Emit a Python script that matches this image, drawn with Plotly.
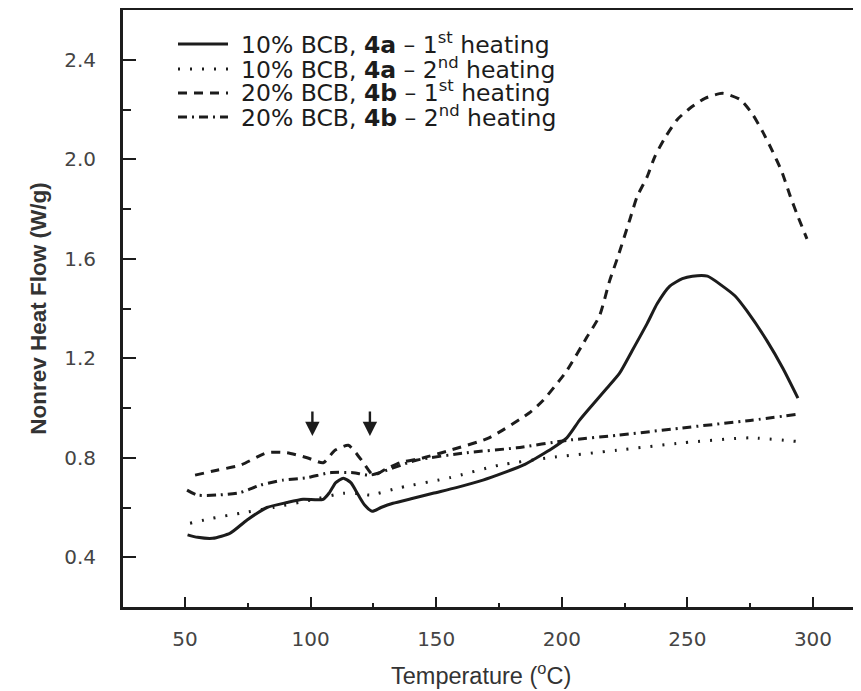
import plotly.graph_objects as go

# --- data ---
t_4a_1 = [51, 55, 61, 68, 74.7, 82.6, 90.6, 97, 105, 107.5, 110, 113, 116, 119, 121.5, 124.5, 128, 132.8, 140, 148.7, 158, 168.6, 177, 184.6, 190, 195, 202, 207, 212, 218, 223, 228, 234, 238, 243, 248, 252, 258, 264, 269, 273.7, 281.7, 288, 294]
v_4a_1 = [0.49, 0.48, 0.476, 0.497, 0.55, 0.60, 0.62, 0.633, 0.633, 0.66, 0.70, 0.718, 0.70, 0.65, 0.61, 0.585, 0.60, 0.617, 0.635, 0.657, 0.68, 0.71, 0.74, 0.77, 0.80, 0.83, 0.88, 0.95, 1.01, 1.08, 1.14, 1.23, 1.34, 1.42, 1.49, 1.52, 1.53, 1.53, 1.49, 1.45, 1.39, 1.27, 1.16, 1.04]

t_4a_2 = [52, 61, 72, 85, 100, 113, 120, 123.6, 135.6, 155.5, 175, 195, 222, 248, 275, 294]
v_4a_2 = [0.537, 0.557, 0.577, 0.60, 0.63, 0.657, 0.655, 0.65, 0.68, 0.72, 0.77, 0.80, 0.83, 0.86, 0.88, 0.865]

t_4b_1 = [54, 62.7, 72, 82.6, 90.6, 98.6, 105, 109.7, 115, 118, 121, 125, 130, 135.6, 145, 155.5, 171, 187, 192.5, 199, 202, 210, 215, 219, 222.4, 227, 230, 234, 237, 241, 246, 251, 257, 264, 271, 276, 280, 284, 287.6, 291, 294, 297.6]
v_4b_1 = [0.73, 0.75, 0.77, 0.82, 0.82, 0.80, 0.78, 0.83, 0.85, 0.82, 0.78, 0.73, 0.755, 0.78, 0.80, 0.83, 0.88, 0.98, 1.03, 1.11, 1.15, 1.285, 1.37, 1.51, 1.61, 1.755, 1.85, 1.93, 2.01, 2.085, 2.16, 2.205, 2.245, 2.265, 2.24, 2.18, 2.11, 2.03, 1.95, 1.85, 1.77, 1.68]

t_4b_2 = [50.8, 54.8, 62.7, 72, 80, 89, 98.6, 107.7, 117, 123.6, 142, 162, 182, 202, 222, 248, 275, 294]
v_4b_2 = [0.67, 0.65, 0.65, 0.66, 0.69, 0.71, 0.72, 0.74, 0.74, 0.73, 0.79, 0.82, 0.84, 0.87, 0.89, 0.92, 0.95, 0.975]

names = [
    "10% BCB, <b>4a</b> \u2013 1<sup>st</sup> heating",
    "10% BCB, <b>4a</b> \u2013 2<sup>nd</sup> heating",
    "20% BCB, <b>4b</b> \u2013 1<sup>st</sup> heating",
    "20% BCB, <b>4b</b> \u2013 2<sup>nd</sup> heating",
]

x_ticks = [50, 100, 150, 200, 250, 300]
y_ticks = [0.4, 0.8, 1.2, 1.6, 2.0, 2.4]

# arrow markers (transition positions)
arrow_t = [100.7, 123.6]
arrow_tip = 0.887
arrow_tail = 0.992

INK = "#1c1c1c"
FONT = "Liberation Sans, Arial, sans-serif"
WIDEFONT = "DejaVu Sans, Liberation Sans, sans-serif"

# the page body adds an 8px offset; layout numbers below are in figure pixels
OFF = 8
W, H = 861, 691
ML, MR, MT, MB = 123 - OFF, 0, 10 - OFF, 691 - (607 - OFF)
PW, PH = W - ML - MR, H - MT - MB


def px_x(sx):
    return (sx - OFF - ML) / PW


def px_y(sy):
    return (H - MB - (sy - OFF)) / PH


fig = go.Figure()
dashes = ["solid", "2px,10px", "9px,7px", "9px,5px,2px,5px"]
series = [(t_4a_1, v_4a_1), (t_4a_2, v_4a_2), (t_4b_1, v_4b_1), (t_4b_2, v_4b_2)]
for (t, v), dash, name in zip(series, dashes, names):
    fig.add_trace(go.Scatter(
        x=t, y=v, mode="lines", name=name, showlegend=False,
        line=dict(color=INK, width=3, dash=dash, shape="spline", smoothing=0.6),
    ))

# legend (drawn manually to match the original's compact layout)
leg_rows = [44, 69, 93, 117]
for row, dash, name in zip(leg_rows, dashes, names):
    fig.add_shape(type="line", xref="paper", yref="paper",
                  x0=px_x(178), x1=px_x(228), y0=px_y(row), y1=px_y(row),
                  line=dict(color=INK, width=3, dash=dash))
    fig.add_annotation(xref="paper", yref="paper", x=px_x(240), y=px_y(row - 1),
                       xanchor="left", yanchor="middle", showarrow=False, borderpad=0,
                       text=name, font=dict(size=23.5, color=INK, family=WIDEFONT))

for t in arrow_t:
    fig.add_annotation(
        x=t, y=arrow_tip, ax=t, ay=arrow_tail, xref="x", yref="y",
        axref="x", ayref="y", text="", showarrow=True,
        arrowhead=2, arrowsize=1.2, arrowwidth=2.4, arrowcolor=INK,
    )

# x-axis title
fig.add_annotation(xref="paper", yref="paper", x=px_x(481), y=px_y(674),
                   xanchor="center", yanchor="middle", showarrow=False,
                   text="Temperature (<sup>o</sup>C)", font=dict(size=23.5, color="#333", family=FONT))

fig.update_layout(
    width=W, height=H,
    margin=dict(l=ML, r=MR, t=MT, b=MB, autoexpand=False),
    paper_bgcolor="white", plot_bgcolor="white",
    font=dict(family=FONT, color=INK),
    showlegend=False,
    xaxis=dict(
        range=[25.3, 322.3], tickvals=x_ticks,
        ticks="inside", ticklen=10, tickwidth=2, tickcolor=INK,
        minor=dict(tickvals=[75, 125, 175, 225, 275], ticks="inside", ticklen=4, tickwidth=2, tickcolor=INK),
        showline=True, linecolor=INK, linewidth=3, mirror=True,
        showgrid=False, zeroline=False, automargin=False,
        tickfont=dict(size=20, color="#444", family=WIDEFONT), ticklabelstandoff=12,
    ),
    yaxis=dict(
        range=[0.2, 2.6], tickvals=y_ticks, tickformat=".1f",
        ticks="inside", ticklen=13, tickwidth=2, tickcolor=INK,
        minor=dict(tickvals=[0.6, 1.0, 1.4, 1.8, 2.2], ticks="inside", ticklen=8, tickwidth=2, tickcolor=INK),
        showline=True, linecolor=INK, linewidth=3, mirror=False,
        showgrid=False, zeroline=False, automargin=False,
        tickfont=dict(size=20, color="#444", family=WIDEFONT), ticklabelstandoff=20,
        title=dict(text="<b>Nonrev Heat Flow (W/g)</b>", font=dict(size=22.5, color="#333"), standoff=12),
    ),
)

fig.write_html("out.html")
